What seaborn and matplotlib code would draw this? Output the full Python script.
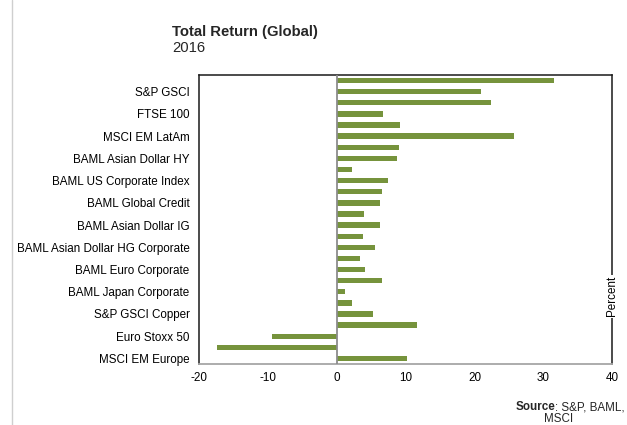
import matplotlib
matplotlib.use("Agg")
import matplotlib.pyplot as plt
import seaborn as sns
import pandas as pd
from matplotlib.lines import Line2D

# ---- data ----
categories = [
    "Unlabelled 1", "S&P GSCI",
    "Unlabelled 2", "FTSE 100",
    "Unlabelled 3", "MSCI EM LatAm",
    "Unlabelled 4", "BAML Asian Dollar HY",
    "Unlabelled 5", "BAML US Corporate Index",
    "Unlabelled 6", "BAML Global Credit",
    "Unlabelled 7", "BAML Asian Dollar IG",
    "Unlabelled 8", "BAML Asian Dollar HG Corporate",
    "Unlabelled 9", "BAML Euro Corporate",
    "Unlabelled 10", "BAML Japan Corporate",
    "Unlabelled 11", "S&P GSCI Copper",
    "Unlabelled 12", "Euro Stoxx 50",
    "Unlabelled 13", "MSCI EM Europe",
]
returns = [
    31.5, 20.9,
    22.4, 6.7,
    9.2, 25.8,
    9.0, 8.7,
    2.2, 7.5,
    6.6, 6.2,
    3.9, 6.2,
    3.8, 5.5,
    3.4, 4.1,
    6.5, 1.2,
    2.2, 5.2,
    11.7, -9.5,
    -17.4, 10.2,
]
shown_labels = [
    "S&P GSCI", "FTSE 100", "MSCI EM LatAm", "BAML Asian Dollar HY",
    "BAML US Corporate Index", "BAML Global Credit", "BAML Asian Dollar IG",
    "BAML Asian Dollar HG Corporate", "BAML Euro Corporate",
    "BAML Japan Corporate", "S&P GSCI Copper", "Euro Stoxx 50",
    "MSCI EM Europe",
]
x_ticks = [-20, -10, 0, 10, 20, 30, 40]

df = pd.DataFrame({"category": categories, "value": returns})

sns.set_theme(style="white")
plt.rcParams["font.family"] = ["Liberation Sans", "DejaVu Sans"]

FS = 8.4

fig = plt.figure(figsize=(6.27, 4.25), dpi=100)
ax = fig.add_axes([0.318, 0.1435, 0.976 - 0.318, 0.8235 - 0.1435])

sns.barplot(data=df, x="value", y="category", order=categories,
            color="#76933C", width=0.48, saturation=1, ax=ax, orient="h",
            linewidth=0, edgecolor="none")

ax.set_xlim(-20, 40)
ax.set_ylim(25.5, -0.5)
ax.set_xticks(x_ticks)
ax.set_xticklabels([str(t) for t in x_ticks], fontsize=FS, color="#000000")
pos = [categories.index(l) for l in shown_labels]
ax.set_yticks(pos)
ax.set_yticklabels(shown_labels, fontsize=FS, color="#000000")
ax.tick_params(axis="both", length=0)
ax.tick_params(axis="y", pad=7)
ax.tick_params(axis="x", pad=6)
ax.set_xlabel("")
ax.set_ylabel("")

ax.axvline(0, color="#8c8c8c", lw=1.3, zorder=3)

for s in ["top", "left", "right"]:
    ax.spines[s].set_visible(True)
    ax.spines[s].set_color("#1a1a1a")
    ax.spines[s].set_linewidth(1.1)
ax.spines["bottom"].set_visible(True)
ax.spines["bottom"].set_color("#a6a6a6")
ax.spines["bottom"].set_linewidth(1.3)

# "Percent" label sitting on the right spine
ax.text(1.0, 0.235, "Percent", transform=ax.transAxes, rotation=90,
        ha="center", va="center", fontsize=FS, color="#000000",
        bbox=dict(facecolor="white", edgecolor="none", pad=1.0), zorder=5)

# titles
fig.text(172 / 627, 1 - 36 / 425, "Total Return (Global)", fontsize=10.7,
         fontweight="bold", ha="left", va="baseline")
fig.text(172 / 627, 1 - 51.5 / 425, "2016", fontsize=10.7,
         ha="left", va="baseline")

# source
fig.text(555 / 627, 1 - 410 / 425, "Source", fontsize=FS, fontweight="bold",
         ha="right", va="baseline")
fig.text(555 / 627, 1 - 410 / 425, ": S&P, BAML,", fontsize=FS,
         ha="left", va="baseline")
fig.text(558.5 / 627, 1 - 422 / 425, "MSCI", fontsize=FS,
         ha="center", va="baseline")

# faint vertical line at the far left
fig.add_artist(Line2D([12 / 627, 12 / 627], [0, 1], transform=fig.transFigure,
                      color="#cfcfcf", lw=1.0))

fig.savefig("out.png", dpi=100)
